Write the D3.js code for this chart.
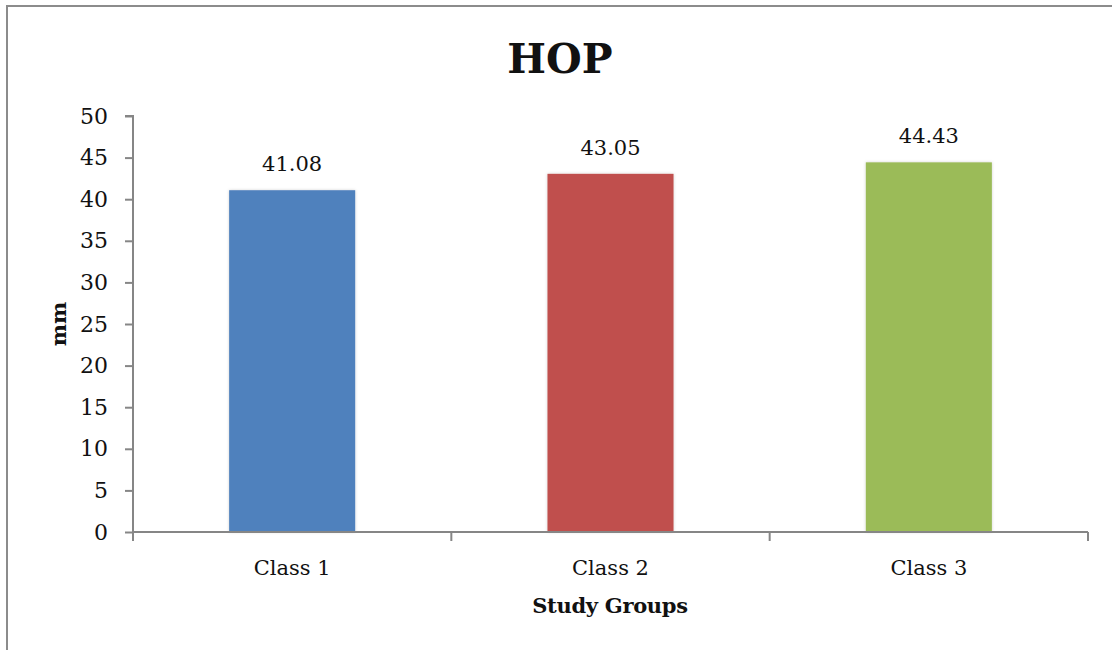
<!DOCTYPE html>
<html>
<head>
<meta charset="utf-8">
<script src="https://cdn.jsdelivr.net/npm/d3@7"></script>
<style>
  html, body { margin: 0; padding: 0; background: #fff; }
  svg { display: block; }
  text { font-family: "DejaVu Serif", "Liberation Serif", serif; fill: #111; }
</style>
</head>
<body>
<script>
// Chart data
const categories = ["Class 1", "Class 2", "Class 3"];
const values = [41.08, 43.05, 44.43];
const colors = ["#4F81BD", "#C0504D", "#9BBB59"];
const yTicks = [0, 5, 10, 15, 20, 25, 30, 35, 40, 45, 50];
const title = "HOP";
const xTitle = "Study Groups";
const yTitle = "mm";

const W = 1112, H = 650;
const plot = { left: 133, right: 1088, top: 116, bottom: 532 };
const FONT = "\"DejaVu Serif\", \"Liberation Serif\", serif";

const svg = d3.select("body").append("svg")
  .attr("width", W).attr("height", H);

// outer chart frame
svg.append("rect")
  .attr("x", 7).attr("y", 6)
  .attr("width", 1110).attr("height", 660)
  .attr("fill", "#fff")
  .attr("stroke", "#8c8c8c").attr("stroke-width", 2);

const x = d3.scaleBand()
  .domain(categories)
  .range([plot.left, plot.right])
  .padding(0);

const y = d3.scaleLinear()
  .domain([0, 50])
  .range([plot.bottom, plot.top]);

const barW = x.bandwidth() * 0.396;

// soft shadow around the bars
const defs = svg.append("defs");
const f = defs.append("filter").attr("id", "shadow")
  .attr("x", "-10%").attr("y", "-5%").attr("width", "120%").attr("height", "110%");
f.append("feDropShadow").attr("dx", 0).attr("dy", 0).attr("stdDeviation", 1.5)
  .attr("flood-color", "#000").attr("flood-opacity", 0.18);

// bars
svg.append("g").selectAll("rect")
  .data(values)
  .join("rect")
  .attr("x", (d, i) => x(categories[i]) + (x.bandwidth() - barW) / 2)
  .attr("y", d => y(d))
  .attr("width", barW)
  .attr("height", d => y(0) - y(d))
  .attr("fill", (d, i) => colors[i])
  .attr("filter", "url(#shadow)");

// value labels
svg.append("g").selectAll("text")
  .data(values)
  .join("text")
  .attr("x", (d, i) => x(categories[i]) + x.bandwidth() / 2)
  .attr("y", d => y(d) - 19)
  .attr("text-anchor", "middle")
  .attr("font-size", 21)
  .text(d => d.toFixed(2));

// y axis
const yAxis = svg.append("g")
  .attr("transform", `translate(${plot.left},0)`)
  .call(d3.axisLeft(y).tickValues(yTicks).tickSize(8).tickPadding(17).tickFormat(d3.format("d")));
yAxis.selectAll("path, line").attr("stroke", "#868686").attr("stroke-width", 2);
yAxis.select(".domain").attr("d", `M-8,${plot.top}H0V${plot.bottom}`);
yAxis.selectAll("text").attr("font-size", 22).attr("fill", "#111")
  .style("font-family", FONT);

// x axis with ticks at category boundaries
const xAxis = svg.append("g")
  .attr("transform", `translate(0,${plot.bottom})`);
xAxis.append("line")
  .attr("x1", plot.left).attr("x2", plot.right)
  .attr("stroke", "#868686").attr("stroke-width", 2);
const bounds = categories.map(c => x(c)).concat([x(categories[categories.length - 1]) + x.bandwidth()]);
xAxis.selectAll(".tick")
  .data(bounds)
  .join("line")
  .attr("x1", d => d).attr("x2", d => d)
  .attr("y1", 0).attr("y2", 9)
  .attr("stroke", "#868686").attr("stroke-width", 2);
xAxis.selectAll(".cat")
  .data(categories)
  .join("text")
  .attr("x", d => x(d) + x.bandwidth() / 2)
  .attr("y", 43)
  .attr("text-anchor", "middle")
  .attr("font-size", 21)
  .text(d => d);

// titles
svg.append("text")
  .attr("x", 560).attr("y", 73)
  .attr("text-anchor", "middle")
  .attr("font-size", 41).attr("font-weight", "bold")
  .text(title);

svg.append("text")
  .attr("x", 610).attr("y", 613)
  .attr("text-anchor", "middle")
  .attr("font-size", 21).attr("font-weight", "bold")
  .attr("letter-spacing", -0.3)
  .text(xTitle);

svg.append("text")
  .attr("transform", `translate(66,${(plot.top + plot.bottom) / 2}) rotate(-90)`)
  .attr("text-anchor", "middle")
  .attr("font-size", 21).attr("font-weight", "bold")
  .text(yTitle);
</script>
</body>
</html>
